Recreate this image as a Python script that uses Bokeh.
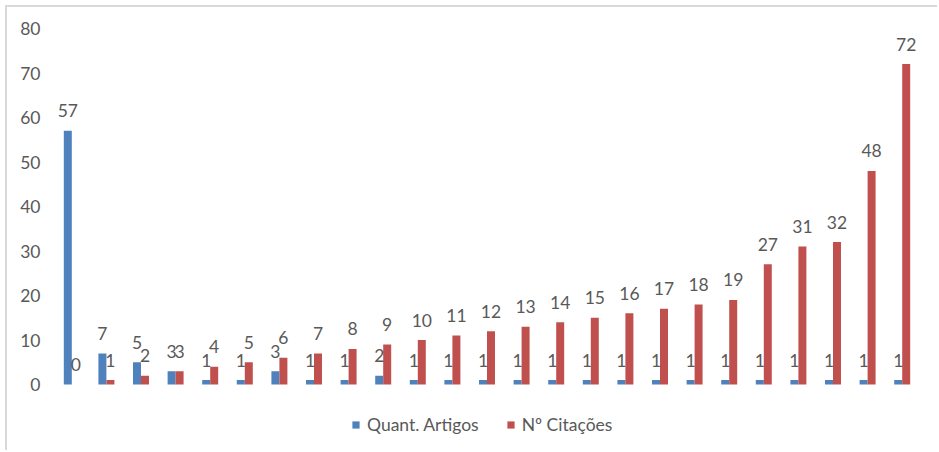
from bokeh.plotting import figure
from bokeh.models import (ColumnDataSource, FactorRange, Range1d, Legend, LegendItem,
                          FixedTicker)
from bokeh.transform import dodge
from bokeh.core.properties import value
from bokeh.embed import file_html
from bokeh.resources import INLINE

# Ranked groups of articles: how many articles share each citation count
categories = ["G01", "G02", "G03", "G04", "G05", "G06", "G07", "G08", "G09", "G10",
              "G11", "G12", "G13", "G14", "G15", "G16", "G17", "G18", "G19", "G20",
              "G21", "G22", "G23", "G24", "G25"]
quant_artigos = [57, 7, 5, 3, 1, 1, 3, 1, 1, 2, 1, 1, 1, 1, 1, 1, 1, 1, 1, 1, 1, 1, 1, 1, 1]
n_citacoes = [0, 1, 2, 3, 4, 5, 6, 7, 8, 9, 10, 11, 12, 13, 14, 15, 16, 17, 18, 19,
              27, 31, 32, 48, 72]
y_ticks = [0, 10, 20, 30, 40, 50, 60, 70, 80]

BLUE = "#4F81BD"
RED = "#C0504D"
TEXT = "#595959"
FONT = "Lato"
FS = "17.5px"

source = ColumnDataSource(dict(
    cat=categories,
    artigos=quant_artigos,
    citacoes=n_citacoes,
    artigos_txt=[str(v) for v in quant_artigos],
    citacoes_txt=[str(v) for v in n_citacoes],
))

# the chart area sits 7 px in from the page corner, framed by a light top/left border;
# the plot frame reaches down under the legend so the legend can sit inside it
W, H = 932, 445
p = figure(width=W, height=H, output_backend="svg", toolbar_location=None,
           x_range=FactorRange(*categories, range_padding=0),
           y_range=Range1d(-13.7, 80),
           min_border_left=47, min_border_right=20,
           min_border_top=21, min_border_bottom=7,
           margin=(5, 0, 0, 5),
           styles={"border-top": "2px solid #D9D9D9",
                   "border-left": "2px solid #D9D9D9"})
p.outline_line_color = None
p.background_fill_color = "white"
p.border_fill_color = "white"
p.grid.visible = False

bar_w = 0.231
off = bar_w / 2

rb = p.vbar(x=dodge("cat", -off, range=p.x_range), top="artigos", width=bar_w,
            source=source, fill_color=BLUE, line_color=None)
rr = p.vbar(x=dodge("cat", off, range=p.x_range), top="citacoes", width=bar_w,
            source=source, fill_color=RED, line_color=None)

# value labels above each bar
for txt, col, dx in (("artigos_txt", "artigos", -off), ("citacoes_txt", "citacoes", off)):
    p.text(x=dodge("cat", dx, range=p.x_range), y=col,
           text=txt, source=source, text_align="center",
           text_baseline="alphabetic", y_offset=-20,
           text_font=value(FONT), text_font_size=FS, text_color=TEXT)

p.xaxis.visible = False
ya = p.yaxis[0]
ya.ticker = FixedTicker(ticks=y_ticks)
ya.axis_line_color = None
ya.major_tick_line_color = None
ya.minor_tick_line_color = None
ya.major_tick_in = 0
ya.major_tick_out = 0
ya.major_label_standoff = 14
ya.major_label_text_font = FONT
ya.major_label_text_font_size = FS
ya.major_label_text_color = TEXT

legend = Legend(items=[LegendItem(label="Quant. Artigos", renderers=[rb]),
                       LegendItem(label="Nº Citações", renderers=[rr])],
                orientation="horizontal", location=(297, 10), padding=0,
                spacing=27, glyph_width=9, glyph_height=9, label_standoff=7,
                border_line_color=None, background_fill_alpha=0, margin=0,
                label_text_font=FONT, label_text_font_size=FS,
                label_text_color=TEXT)
p.add_layout(legend, "center")

open("out.html", "w").write(file_html(p, INLINE))
